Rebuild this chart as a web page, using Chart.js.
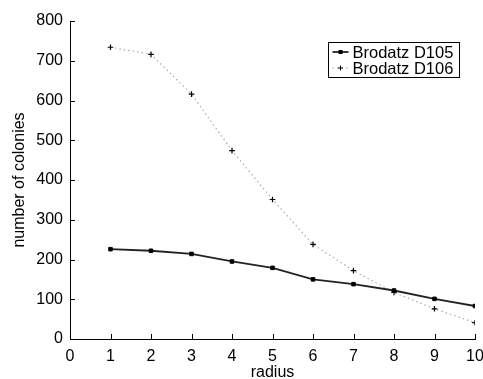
<!DOCTYPE html>
<html>
<head>
<meta charset="utf-8">
<script src="https://cdn.jsdelivr.net/npm/chart.js@4/dist/chart.umd.min.js"></script>
<style>
html,body{margin:0;padding:0;background:#fff;overflow:hidden;}
#wrap{width:483px;height:379px;}
</style>
</head>
<body>
<div id="wrap"><canvas id="c" width="483" height="379"></canvas></div>
<script>
const radius = [1,2,3,4,5,6,7,8,9,10];
const d105 = [226,222,214,195,179,150,138,122,101,83];
const d106 = [734,716,616,474,351,238,172,117,76,41];
const seriesNames = ['Brodatz D105','Brodatz D106'];
const xTicks = [0,1,2,3,4,5,6,7,8,9,10];
const yTicks = [0,100,200,300,400,500,600,700,800];

const FONT = '"Liberation Sans", Arial, sans-serif';

const innerTicks = {
  id:'innerTicks',
  afterDraw(chart){
    const ctx = chart.ctx, xs = chart.scales.x, ys = chart.scales.y;
    ctx.save();
    ctx.strokeStyle = '#000'; ctx.lineWidth = 1;
    ctx.beginPath();
    xTicks.forEach(v=>{ const px = Math.round(xs.getPixelForValue(v))+0.5; ctx.moveTo(px, ys.bottom); ctx.lineTo(px, ys.bottom-5); });
    yTicks.forEach(v=>{ const py = Math.round(ys.getPixelForValue(v))+0.5; ctx.moveTo(xs.left, py); ctx.lineTo(xs.left+5, py); });
    ctx.stroke();
    // legend box
    const bx = 328.5, by = 42.5, bw = 131, bh = 35;
    ctx.fillStyle='#fff'; ctx.fillRect(bx,by,bw,bh);
    ctx.strokeRect(bx,by,bw,bh);
    ctx.font = '16.5px ' + FONT;
    ctx.fillStyle = '#000';
    ctx.textBaseline = 'middle';
    chart.data.datasets.forEach((ds,i)=>{
      const y = by + 9.5 + i*16;
      ctx.beginPath();
      ctx.strokeStyle = ds.borderColor; ctx.lineWidth = ds.borderWidth;
      ctx.setLineDash(ds.borderDash||[]);
      ctx.moveTo(bx+4,y); ctx.lineTo(bx+20,y); ctx.stroke();
      ctx.setLineDash([]);
      ctx.fillStyle='#000'; ctx.strokeStyle='#000'; ctx.lineWidth=1;
      if(i===0){ ctx.fillRect(bx+10,y-2,4,4); }
      else { ctx.beginPath(); ctx.moveTo(bx+9.5,y); ctx.lineTo(bx+14.5,y); ctx.moveTo(bx+12,y-2.5); ctx.lineTo(bx+12,y+2.5); ctx.stroke(); }
      ctx.fillText(ds.label, bx+24, y+1);
    });
    ctx.restore();
  }
};

new Chart(document.getElementById('c'), {
  type:'line',
  data:{
    datasets:[
      {label:seriesNames[0], data:radius.map((r,i)=>({x:r,y:d105[i]})), borderColor:'#222', borderWidth:1.8,
       pointStyle:'rect', pointRadius:2.5, pointBackgroundColor:'#000', pointBorderColor:'#000', pointBorderWidth:1, tension:0},
      {label:seriesNames[1], data:radius.map((r,i)=>({x:r,y:d106[i]})), borderColor:'#aaa', borderWidth:1.2, borderDash:[1.5,3],
       pointStyle:'cross', pointRadius:2.8, pointBorderColor:'#000', pointBorderWidth:1.2, tension:0}
    ]
  },
  plugins:[innerTicks],
  options:{
    responsive:false, animation:false, devicePixelRatio:1,
    layout:{padding:{top:21,right:8,left:0,bottom:0}},
    plugins:{legend:{display:false}, tooltip:{enabled:false}},
    scales:{
      x:{type:'linear', min:0, max:10,
        afterBuildTicks(s){ s.ticks = xTicks.map(v=>({value:v})); },
        afterFit(s){ s.height = 40; s.paddingRight = 0; s.paddingLeft = 0; },
        grid:{display:true, drawOnChartArea:false, drawTicks:false},
        border:{display:true, color:'#000', width:1},
        ticks:{color:'#000', font:{family:FONT, size:16}, padding:8, autoSkip:false, maxRotation:0},
        title:{display:true, text:'radius', color:'#000', font:{family:FONT, size:16}, padding:{top:0,bottom:-3}}
      },
      y:{min:0, max:800,
        afterBuildTicks(s){ s.ticks = yTicks.map(v=>({value:v})); },
        afterFit(s){ s.width = 70; },
        grid:{display:true, drawOnChartArea:false, drawTicks:false},
        border:{display:true, color:'#000', width:1},
        ticks:{color:'#000', font:{family:FONT, size:16}, padding:7},
        title:{display:true, text:'number of colonies', color:'#000', font:{family:FONT, size:16}, padding:{top:10,bottom:0}}
      }
    }
  }
});
</script>
</body>
</html>
